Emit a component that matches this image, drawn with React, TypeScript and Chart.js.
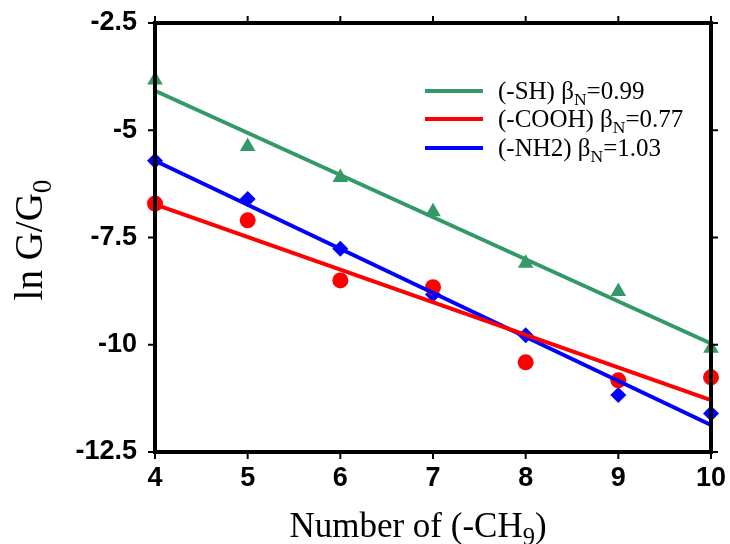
import React, { useEffect, useRef } from "react";
import { Chart, registerables } from "chart.js";

Chart.register(...registerables);

const xValues = [4, 5, 6, 7, 8, 9, 10];
const shValues = [-3.83, -5.38, -6.1, -6.9, -8.1, -8.76, -10.08];
const coohValues = [-6.71, -7.1, -8.5, -8.66, -10.41, -10.83, -10.76];
const nh2Values = [-5.71, -6.6, -7.76, -8.83, -9.78, -11.17, -11.6];

const fitX = [4, 10];
const shFit = [-4.08, -9.97];
const coohFit = [-6.73, -11.29];
const nh2Fit = [-5.71, -11.87];

const seriesNames = ["(-SH) β", "(-COOH) β", "(-NH2) β"];
const betaValues = ["=0.99", "=0.77", "=1.03"];

const GREEN = "#339966";
const RED = "#ff0000";
const BLUE = "#0000ff";
const colors = [GREEN, RED, BLUE];

const SERIF = '"Liberation Serif", "Times New Roman", serif';
const SANS = '"Liberation Sans", Arial, sans-serif';

type Part = { t: string; sub?: boolean };

function partsWidth(ctx: CanvasRenderingContext2D, parts: Part[], size: number) {
  let w = 0;
  for (const p of parts) {
    ctx.font = `${p.sub ? size * 0.7 : size}px ${SERIF}`;
    w += ctx.measureText(p.t).width;
  }
  return w;
}

function drawParts(ctx: CanvasRenderingContext2D, parts: Part[], x: number, y: number, size: number) {
  let cx = x;
  for (const p of parts) {
    const s = p.sub ? size * 0.7 : size;
    ctx.font = `${s}px ${SERIF}`;
    ctx.fillText(p.t, cx, p.sub ? y + size * 0.22 : y);
    cx += ctx.measureText(p.t).width;
  }
}

const zeroPad = (s: any) => {
  s.paddingTop = 0;
  s.paddingBottom = 0;
  s.paddingLeft = 0;
  s.paddingRight = 0;
};

const decorPlugin = {
  id: "decor",
  afterDatasetsDraw(chart: any) {
    const ctx: CanvasRenderingContext2D = chart.ctx;
    const { left, right, top, bottom } = chart.chartArea;
    const xs = chart.scales.x;
    const ys = chart.scales.y;
    ctx.save();
    ctx.strokeStyle = "#000";
    ctx.lineWidth = 2;
    ctx.beginPath();
    for (const t of xs.ticks) {
      const px = xs.getPixelForValue(t.value);
      ctx.moveTo(px, bottom);
      ctx.lineTo(px, bottom + 7);
      ctx.moveTo(px, top);
      ctx.lineTo(px, top - 7);
    }
    for (const t of ys.ticks) {
      const py = ys.getPixelForValue(t.value);
      ctx.moveTo(left, py);
      ctx.lineTo(left - 7, py);
      ctx.moveTo(right, py);
      ctx.lineTo(right + 7, py);
    }
    ctx.stroke();
    ctx.lineWidth = 4;
    ctx.strokeRect(left, top, right - left, bottom - top);
    ctx.restore();
  },
  afterDraw(chart: any) {
    const ctx: CanvasRenderingContext2D = chart.ctx;
    ctx.save();
    ctx.fillStyle = "#000";
    ctx.textBaseline = "alphabetic";
    ctx.textAlign = "left";

    // Legend
    const legendY = [91, 119, 148];
    for (let i = 0; i < 3; i++) {
      ctx.strokeStyle = colors[i];
      ctx.lineWidth = 4;
      ctx.beginPath();
      ctx.moveTo(425, legendY[i]);
      ctx.lineTo(483, legendY[i]);
      ctx.stroke();
      drawParts(
        ctx,
        [{ t: seriesNames[i] }, { t: "N", sub: true }, { t: betaValues[i] }],
        498,
        legendY[i] + 8,
        25
      );
    }

    // X title
    const xParts: Part[] = [{ t: "Number of (-CH" }, { t: "9", sub: true }, { t: ")" }];
    const xw = partsWidth(ctx, xParts, 35);
    drawParts(ctx, xParts, 418 - xw / 2, 537, 35);

    // Y title
    const yParts: Part[] = [{ t: "ln G/G" }, { t: "0", sub: true }];
    const yw = partsWidth(ctx, yParts, 39);
    ctx.translate(42, 240);
    ctx.rotate(-Math.PI / 2);
    drawParts(ctx, yParts, -yw / 2, 0, 39);
    ctx.restore();
  },
};

export default function App() {
  const ref = useRef<HTMLCanvasElement | null>(null);
  useEffect(() => {
    document.body.style.margin = "0";
    if (!ref.current) return;
    const toPts = (ys: number[], xsArr: number[]) => ys.map((y, i) => ({ x: xsArr[i], y }));
    const chart = new Chart(ref.current, {
      type: "scatter",
      data: {
        datasets: [
          {
            type: "line",
            data: toPts(shFit, fitX),
            borderColor: GREEN,
            borderWidth: 4,
            pointRadius: 0,
            fill: false,
          },
          {
            type: "line",
            data: toPts(coohFit, fitX),
            borderColor: RED,
            borderWidth: 4,
            pointRadius: 0,
            fill: false,
          },
          {
            type: "line",
            data: toPts(nh2Fit, fitX),
            borderColor: BLUE,
            borderWidth: 4,
            pointRadius: 0,
            fill: false,
          },
          {
            data: toPts(shValues, xValues),
            pointStyle: "triangle",
            pointRadius: 9,
            backgroundColor: GREEN,
            borderColor: GREEN,
            borderWidth: 0,
          },
          {
            data: toPts(coohValues, xValues),
            pointStyle: "circle",
            pointRadius: 8,
            backgroundColor: RED,
            borderColor: RED,
            borderWidth: 0,
          },
          {
            data: toPts(nh2Values, xValues),
            pointStyle: "rectRot",
            pointRadius: 8,
            backgroundColor: BLUE,
            borderColor: BLUE,
            borderWidth: 0,
          },
        ] as any,
      },
      options: {
        animation: false,
        responsive: false,
        clip: false as any,
        layout: { padding: { top: 23, right: 19, left: 0, bottom: 0 } },
        plugins: { legend: { display: false }, tooltip: { enabled: false } },
        scales: {
          x: {
            type: "linear",
            min: 4,
            max: 10,
            ticks: {
              stepSize: 1,
              padding: 10,
              color: "#000",
              font: { family: SANS, size: 27, weight: "bold" },
            },
            grid: { display: false, drawTicks: false },
            border: { display: false },
            afterFit: (s: any) => {
              s.height = 92;
              zeroPad(s);
            },
          },
          y: {
            type: "linear",
            min: -12.5,
            max: -2.5,
            ticks: {
              stepSize: 2.5,
              padding: 18,
              color: "#000",
              font: { family: SANS, size: 27, weight: "bold" },
            },
            grid: { display: false, drawTicks: false },
            border: { display: false },
            afterFit: (s: any) => {
              s.width = 155;
              zeroPad(s);
            },
          },
        },
      },
      plugins: [decorPlugin],
    });
    return () => chart.destroy();
  }, []);
  return (
    <div style={{ width: 730, height: 544 }}>
      <canvas ref={ref} width={730} height={544} style={{ display: "block" }} />
    </div>
  );
}
